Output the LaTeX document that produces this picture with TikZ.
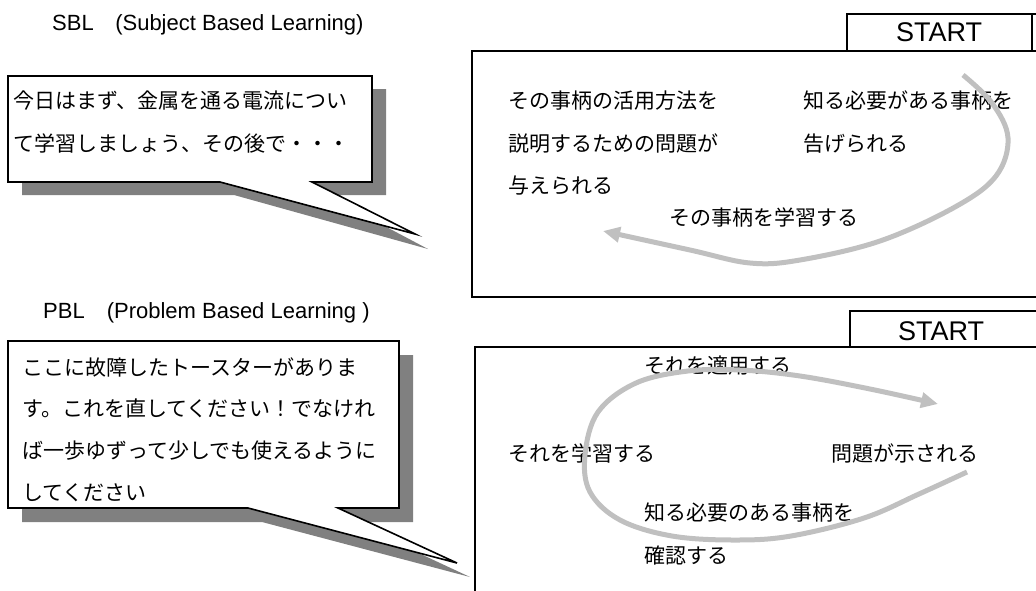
\documentclass[tikz,border=0pt]{standalone}
\usepackage{fontspec}
\setmainfont{Liberation Sans}
\newfontfamily\jpf{Noto Sans CJK JP}
\usetikzlibrary{arrows.meta}
\definecolor{shadowgray}{HTML}{808080}
\definecolor{flowgray}{HTML}{C0C0C0}
\begin{document}
\begin{tikzpicture}[x=1pt,y=-1pt,
  jp/.style={font=\jpf\fontsize{21}{21}\selectfont, anchor=base west, inner sep=0pt},
  ttl/.style={font=\fontsize{22}{22}\selectfont, anchor=base west, inner sep=0pt},
  st/.style={font=\fontsize{27}{27}\selectfont, anchor=base, inner sep=0pt},
  frame/.style={draw=black, line width=1.6pt, line join=miter},
  shadow/.style={fill=shadowgray},
  bubble/.style={fill=white, draw=black, line width=1.6pt, line join=miter},
  flow/.style={draw=flowgray, line width=5pt, line cap=butt, -{Triangle[length=17pt,width=15pt]}}]
\useasboundingbox (0,0) rectangle (1036,590);

% ---------- SBL ----------
\node[ttl] (sbltitle) at (52,30) {SBL\hspace{21.5pt}(Subject Based Learning)};

\fill[shadow] (22,89) -- (386,89) -- (386,195) -- (326,195) -- (428,249) -- (234,195) -- (22,195) -- cycle;
\draw[bubble] (8,76) -- (372,76) -- (372,182) -- (312,182) -- (415,234) -- (220,182) -- (8,182) -- cycle;
\node[jp] (sblb1) at (13,108) {今日はまず、金属を通る電流につい};
\node[jp] (sblb2) at (13,151) {て学習しましょう、その後で・・・};

\draw[frame] (1040,51) -- (472,51) -- (472,297) -- (1040,297);
\draw[frame, fill=white] (1040,14) -- (847,14) -- (847,51) -- (1032,51) -- (1032,14);
\node[st] (start1) at (939,41.5) {START};

\node[jp] (s1) at (508,108) {その事柄の活用方法を};
\node[jp] (s2) at (508,151) {説明するための問題が};
\node[jp] (s3) at (508,193) {与えられる};
\node[jp] (s4) at (803,108) {知る必要がある事柄を};
\node[jp] (s5) at (803,151) {告げられる};
\node[jp] (s6) at (669,225) {その事柄を学習する};

\coordinate (sa) at (963,75);
\coordinate (sb) at (603,231);
\draw[flow] plot[smooth, tension=0.6] coordinates {(sa) (992,103) (1008,138) (996,176) (955,207) (880,241) (800,260) (750,263) (690,250) (sb)};

% ---------- PBL ----------
\node[ttl] (pbltitle) at (43,318) {PBL\hspace{22pt}(Problem Based Learning )};

\fill[shadow] (22,355) -- (413,355) -- (413,522) -- (352,522) -- (470,577) -- (262,522) -- (22,522) -- cycle;
\draw[bubble] (8,341) -- (399,341) -- (399,508) -- (338,508) -- (457,563) -- (248,508) -- (8,508) -- cycle;
\node[jp] (pblb1) at (22,375) {ここに故障したトースターがありま};
\node[jp] (pblb2) at (22,416) {す。これを直してください！でなけれ};
\node[jp] (pblb3) at (22,458) {ば一歩ゆずって少しでも使えるように};
\node[jp] (pblb4) at (22,500) {してください};

\draw[frame] (1040,347) -- (475,347) -- (475,595);
\draw[frame, fill=white] (1040,311) -- (850,311) -- (850,347) -- (1040,347);
\node[st] (start2) at (941,340) {START};

\node[jp] (p1) at (644,373) {それを適用する};
\node[jp] (p2) at (508,461) {それを学習する};
\node[jp] (p3) at (831,461) {問題が示される};
\node[jp] (p4) at (644,520) {知る必要のある事柄を};
\node[jp] (p5) at (644,563) {確認する};

\coordinate (pa) at (967,472);
\coordinate (pb) at (938,404);
\draw[flow] plot[smooth, tension=0.6] coordinates {(pa) (919,494) (864,518) (791,536) (735,540) (672,536) (620,520) (590,492) (585,455) (598,412) (636,383) (688,371) (740,370) (800,376) (870,389) (pb)};
\end{tikzpicture}
\end{document}
